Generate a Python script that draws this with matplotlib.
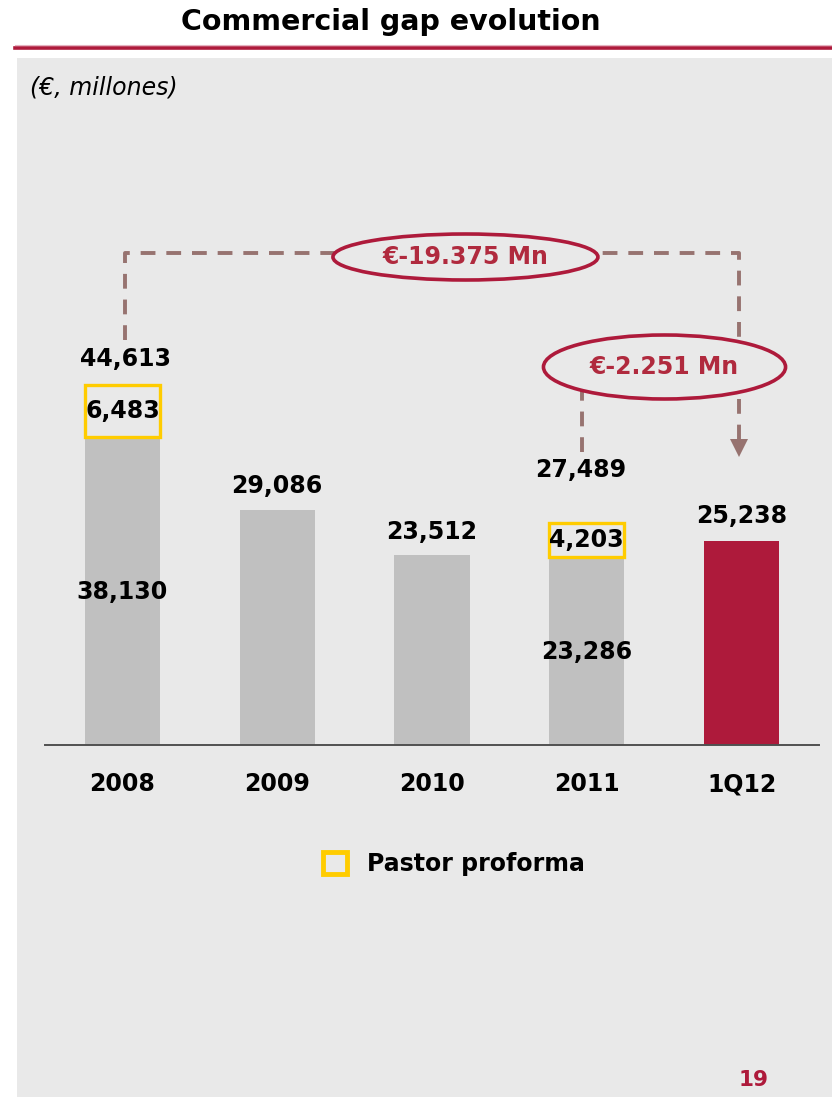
import matplotlib
matplotlib.use('Agg')
import matplotlib.pyplot as plt
from matplotlib.patches import Rectangle, Ellipse, Patch
from matplotlib.lines import Line2D

# ---- data ----
categories = ['2008', '2009', '2010', '2011', '1Q12']
base_values = [38130, 29086, 23512, 23286, 25238]
pastor_values = [6483, 0, 0, 4203, 0]
title = 'Commercial gap evolution'
unit_label = '(€, millones)'
legend_label = 'Pastor proforma'
page_number = '19'

# ---- styles ----
BG = '#E9E9E9'
GREY = '#C0C0C0'
CRIMSON = '#AE1A3B'
YELLOW = '#FFCC00'
DASH = '#977370'
FONT = 'DejaVu Sans'
LBL = 17

W, H = 832, 1097
fig = plt.figure(figsize=(W / 100, H / 100), dpi=100)
fig.patch.set_facecolor('white')

def fx(x):
    return x / W

def fy(y):
    return 1 - y / H

# panel + header line
fig.patches.append(Rectangle((fx(17), 0), fx(W - 17), fy(58),
                             transform=fig.transFigure, facecolor=BG, edgecolor='none', zorder=-10))
fig.lines.append(Line2D([fx(15), 1], [fy(48), fy(48)], transform=fig.transFigure,
                        color=CRIMSON, lw=2.6, zorder=1))
fig.lines.append(Line2D([fx(15), 1], [fy(45), fy(45)], transform=fig.transFigure,
                        color='#E6B3C0', lw=0.8, zorder=1))

fig.text(fx(391), fy(22), title, ha='center', va='center', fontsize=20.5,
         fontweight='bold', family=FONT, color='black')
fig.text(fx(30), fy(88), unit_label, ha='left', va='center', fontsize=17,
         style='italic', family=FONT, color='black')
fig.text(fx(754), fy(1080), page_number, ha='center', va='center', fontsize=15.5,
         fontweight='bold', family=FONT, color=CRIMSON)

# ---- axes ----
ax = fig.add_axes([fx(45), fy(745), fx(774), 545 / H])
ax.set_facecolor('none')
x = list(range(len(categories)))
bw = 0.485
colors = [GREY] * (len(categories) - 1) + [CRIMSON]
ax.bar(x, base_values, width=bw, color=colors, zorder=2)
totals = [b + p for b, p in zip(base_values, pastor_values)]
for i, (b, p) in enumerate(zip(base_values, pastor_values)):
    if p:
        ax.bar(i, p, bottom=b, width=bw, facecolor=BG, edgecolor=YELLOW, lw=2.4, zorder=3)
        ax.text(i, b + p / 2, f'{p:,}', ha='center', va='center', fontsize=LBL,
                fontweight='bold', family=FONT, zorder=5)
        ax.text(i, b / 2 - 150, f'{b:,}', ha='center', va='center', fontsize=LBL,
                fontweight='bold', family=FONT, zorder=5)

label_offsets = [26, 24, 23, 53, 25]  # px above top
label_dx = [3, 0, 0, -6, 0]
for i, t in enumerate(totals):
    ax.annotate(f'{t:,}', (i, t), xytext=(label_dx[i] * 0.72, label_offsets[i] * 0.72),
                textcoords='offset points', ha='center', va='center', fontsize=LBL,
                fontweight='bold', family=FONT, zorder=5)

ax.set_xlim(-0.5, 4.5)
ax.set_ylim(0, 67467)
ax.set_xticks(x)
ax.set_xticklabels(categories, fontsize=LBL, fontweight='bold', family=FONT)
ax.tick_params(axis='x', length=0, pad=19.5)
ax.set_yticks([])
for s in ['left', 'right', 'top']:
    ax.spines[s].set_visible(False)
ax.spines['bottom'].set_color('#505050')
ax.spines['bottom'].set_linewidth(1.4)
ax.spines['bottom'].set_zorder(6)

# ---- gap annotations ----
gap_total = base_values[-1] - totals[0]
gap_year = base_values[-1] - totals[3]

def fmt_gap(g):
    return '€' + f'{g:,}'.replace(',', '.') + ' Mn'

top_y = 60900
dash_kw = dict(color=DASH, lw=2.8, dashes=(3.8, 2.8), solid_capstyle='butt',
               dash_capstyle='butt', clip_on=False, zorder=3)
ax.plot([0.02, 0.02, 3.98, 3.98], [50136, top_y, top_y, 37700], **dash_kw)
ax.plot([3.98], [36800], marker='v', ms=13, color=DASH, clip_on=False, zorder=3,
        markeredgewidth=0)
ax.plot([2.966, 2.966], [36270, 44200], **dash_kw)

e1 = Ellipse((2.216, 60411), 1.712, 5694, facecolor=BG, edgecolor=CRIMSON, lw=2.6,
             zorder=4, clip_on=False)
ax.add_patch(e1)
ax.text(2.216, 60411, fmt_gap(gap_total), ha='center', va='center', fontsize=LBL,
        fontweight='bold', family=FONT, color='#B02A3E', zorder=5)
e2 = Ellipse((3.502, 46794), 1.564, 7923, facecolor=BG, edgecolor=CRIMSON, lw=2.6,
             zorder=4, clip_on=False)
ax.add_patch(e2)
ax.text(3.502, 46794, fmt_gap(gap_year), ha='center', va='center', fontsize=LBL,
        fontweight='bold', family=FONT, color='#B02A3E', zorder=5)

# ---- legend ----
handle = Patch(facecolor=BG, edgecolor=YELLOW, lw=3.5)
leg = fig.legend(handles=[handle], labels=[legend_label], loc='center',
                 bbox_to_anchor=(fx(454), fy(864)), frameon=False,
                 handlelength=1.05, handleheight=1.05, handletextpad=0.85,
                 prop=dict(family=FONT, weight='bold', size=LBL))

fig.savefig('out.png', dpi=100, facecolor='white')
